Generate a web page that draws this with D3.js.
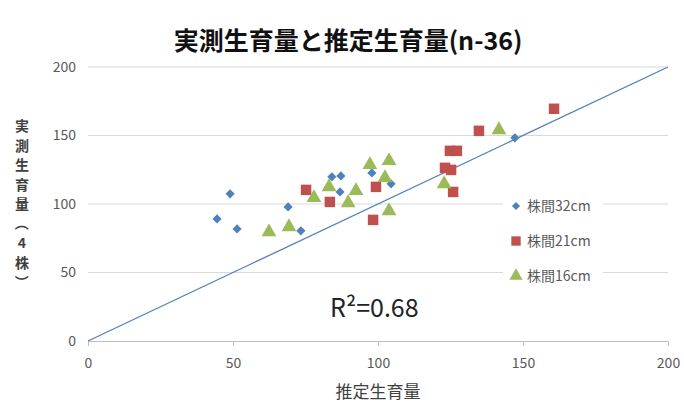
<!DOCTYPE html>
<html>
<head>
<meta charset="utf-8">
<script src="https://cdn.jsdelivr.net/npm/d3@7"></script>
<style>
  body { margin: 0; background: #fff; }
  text { font-family: "Noto Sans CJK JP", "Noto Sans", sans-serif; }
</style>
</head>
<body>
<svg id="chart" width="684" height="405"></svg>
<script>
// estimated vs measured growth, three plant spacings
const ticks = [0, 50, 100, 150, 200];
const series = ['株間32cm', '株間21cm', '株間16cm'];
const s32 = [[44.5,89.1],[49.0,107.4],[51.4,81.8],[69.0,97.9],[73.4,80.4],[84.1,119.8],
             [87.2,120.5],[86.9,108.8],[97.9,122.7],[104.5,114.7],[147.2,148.3]];
const s21 = [[75.2,110.3],[83.4,101.5],[99.3,112.5],[98.3,88.4],[123.1,126.4],[125.2,124.9],
             [124.8,138.8],[127.2,138.8],[125.9,108.8],[134.8,153.4],[160.7,169.5]];
const s16 = [[62.4,79.6],[69.3,83.3],[77.9,104.5],[83.1,112.5],[89.7,100.8],[92.4,109.6],
             [97.2,128.6],[103.8,131.5],[102.4,119.1],[103.8,95.0],[122.8,114.7],[141.7,154.1]];
const refLine = [[0,0],[200,200]];
const r2Label = 'R²=0.68';

const colors = ['#4F81BD', '#C0504D', '#9BBB59'];
const shapes = [d3.symbolSquare, d3.symbolSquare, d3.symbolTriangle];
const rotations = [45, 0, 0];
const sizes = [42, 110, 95];

const svg = d3.select('#chart');
const x = d3.scaleLinear().domain([0,200]).range([88,668]);
const y = d3.scaleLinear().domain([0,200]).range([341,67]);

// title
svg.append('text').attr('x',348).attr('y',50).attr('text-anchor','middle')
  .style('font-size','25px').style('font-weight','bold').attr('fill','#111')
  .text('実測生育量と推定生育量(n-36)');

// grid
svg.append('g').selectAll('line').data(ticks.slice(1)).join('line')
  .attr('x1',x(0)).attr('x2',x(200)).attr('y1',d=>y(d)).attr('y2',d=>y(d))
  .attr('stroke','#d9d9d9').attr('stroke-width',1.2);

// axes
const xa = svg.append('g').attr('transform',`translate(0,${y(0)})`)
  .call(d3.axisBottom(x).tickValues(ticks).tickSize(5).tickPadding(12));
xa.select('.domain').attr('stroke','#bfbfbf');
xa.selectAll('.tick line').attr('stroke','#bfbfbf');
xa.selectAll('text').attr('fill','#595959').style('font-size','14px');

const ya = svg.append('g').attr('transform',`translate(${x(0)},0)`)
  .call(d3.axisLeft(y).tickValues(ticks).tickSize(0).tickPadding(12));
ya.select('.domain').remove();
ya.selectAll('text').attr('fill','#595959').style('font-size','14px');

// axis titles
svg.append('text').attr('x',378).attr('y',398).attr('text-anchor','middle')
  .style('font-size','17px').attr('fill','#404040').text('推定生育量');
const ytitle = '実測生育量（4株）'.split('');
svg.append('g').selectAll('text').data(ytitle).join('text')
  .attr('x',22).attr('y',(d,i)=>131 + i*19.5).attr('text-anchor','middle')
  .style('font-size','14px').style('font-weight','bold').attr('fill','#404040')
  .attr('transform',(d,i)=> (d==='（'||d==='）') ? `rotate(90,22,${126 + i*19.5})` : null)
  .text(d=>d);

// 1:1 line
svg.append('path').datum(refLine)
  .attr('d', d3.line().x(d=>x(d[0])).y(d=>y(d[1])))
  .attr('stroke','#4F81BD').attr('stroke-width',1.3).attr('fill','none');

// legend background and entries
svg.append('rect').attr('x',503).attr('y',190).attr('width',100).attr('height',100).attr('fill','#fff');
const lg = svg.append('g');
series.forEach((name,i)=>{
  const ly = 206 + i*35;
  lg.append('path').attr('transform',`translate(516,${ly}) rotate(${rotations[i]})`)
    .attr('d', d3.symbol().type(shapes[i]).size(sizes[i]*0.8)()).attr('fill',colors[i]);
  lg.append('text').attr('x',527).attr('y',ly+5).style('font-size','14px')
    .attr('fill','#595959').text(name);
});

// points
[s32, s21, s16].forEach((data,i)=>{
  svg.append('g').selectAll('path').data(data).join('path')
    .attr('transform',d=>`translate(${x(d[0])},${y(d[1])}) rotate(${rotations[i]})`)
    .attr('d', d3.symbol().type(shapes[i]).size(sizes[i])())
    .attr('fill',colors[i]);
});

svg.append('text').attr('x',330).attr('y',317).style('font-size','25px')
  .attr('fill','#222').text(r2Label);
</script>
</body>
</html>
